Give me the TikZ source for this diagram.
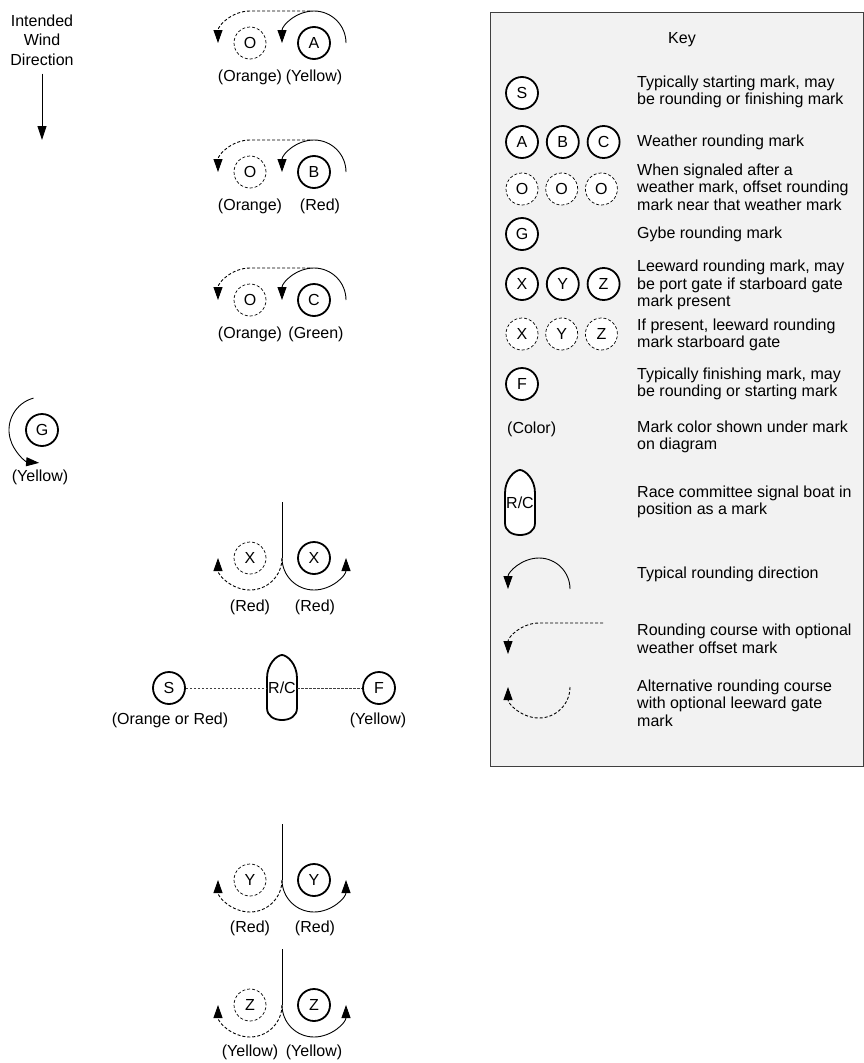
\documentclass[tikz,border=0pt]{standalone}
\usepackage{fontspec}
\setmainfont{Liberation Sans}
\usetikzlibrary{arrows.meta,positioning}

\tikzset{
  buoy/.style={circle, draw, line width=1.8pt, fill=white, minimum size=32pt, inner sep=0pt, font=\fontsize{16}{18}\selectfont},
  offbuoy/.style={buoy, line width=0.7pt, dash pattern=on 3pt off 2pt},
  clr/.style={inner sep=0pt, font=\fontsize{16}{18}\selectfont},
  keytxt/.style={anchor=west, align=left, inner sep=0pt, font=\fontsize{16}{17.5}\selectfont},
  course/.style={line width=0.9pt, -{Triangle[length=13pt,width=9pt]}},
  offcourse/.style={course, dash pattern=on 3pt off 2pt},
  boatline/.style={line width=1.8pt, fill=white},
  rcnode/.style={minimum width=30pt, minimum height=65pt, inner sep=0pt, font=\fontsize{16}{18}\selectfont},
  startline/.style={line width=0.8pt, black!75, dash pattern=on 2.5pt off 1.5pt},
  keybox/.style={draw=black!75, fill=gray!10, line width=1pt},
}

% signal boat outline round a coordinate
\newcommand{\rcboat}[1]{\draw[boatline, shift={(#1)}] (-15,-10) .. controls (-15,-24) and (-5,-33) .. (0,-33) .. controls (5,-33) and (15,-24) .. (15,-10) -- (15,20) .. controls (15,28) and (8,32) .. (0,32) .. controls (-8,32) and (-15,28) .. (-15,20) -- cycle;}

\begin{document}
\begin{tikzpicture}[x=1pt, y=-1pt]
  \useasboundingbox (0,0) rectangle (864,1063);

  % wind
  \node[align=center, inner sep=0pt, font=\fontsize{16}{19.5}\selectfont] (wind) at (42,40) {Intended\\Wind\\Direction};
  \coordinate (windtip) at (42,140);
  \draw[line width=0.9pt, -{Triangle[length=14pt,width=9pt]}, shorten <=8pt] (wind) -- (windtip);

  % weather marks
  \node[offbuoy] (Oa) at (250,43) {O};
  \node[buoy] (A) at (314,43) {A};
  \node[clr] (Oalbl) at (250,77) {(Orange)};
  \node[clr] (Albl) at (314,77) {(Yellow)};
  \draw[course] ([xshift=32pt]A.center) arc[start angle=0, end angle=180, radius=32pt];
  \draw[offcourse] ([xshift=60pt, yshift=32pt]Oa.center) -- ([yshift=32pt]Oa.center) arc[start angle=90, end angle=180, radius=32pt];

  \node[offbuoy] (Ob) at (250,172) {O};
  \node[buoy] (B) at (314,172) {B};
  \node[clr] (Oblbl) at (250,206) {(Orange)};
  \node[clr] (Blbl) at (320,206) {(Red)};
  \draw[course] ([xshift=32pt]B.center) arc[start angle=0, end angle=180, radius=32pt];
  \draw[offcourse] ([xshift=60pt, yshift=32pt]Ob.center) -- ([yshift=32pt]Ob.center) arc[start angle=90, end angle=180, radius=32pt];

  \node[offbuoy] (Oc) at (250,300) {O};
  \node[buoy] (C) at (314,300) {C};
  \node[clr] (Oclbl) at (250,334) {(Orange)};
  \node[clr] (Clbl) at (316,334) {(Green)};
  \draw[course] ([xshift=32pt]C.center) arc[start angle=0, end angle=180, radius=32pt];
  \draw[offcourse] ([xshift=60pt, yshift=32pt]Oc.center) -- ([yshift=32pt]Oc.center) arc[start angle=90, end angle=180, radius=32pt];

  % gybe mark
  \node[buoy] (G) at (42,430) {G};
  \node[clr] (Glbl) at (40,477) {(Yellow)};
  \draw[course] ([shift={(105:33pt)}]G.center) arc[start angle=105, end angle=265, radius=33pt];

  % leeward gates
  \node[offbuoy] (Xs) at (250,558) {X};
  \node[buoy] (Xp) at (314,558) {X};
  \node[clr] (Xslbl) at (250,607) {(Red)};
  \node[clr] (Xplbl) at (315,607) {(Red)};
  \coordinate (Xgate) at (282,558);
  \draw[line width=0.9pt] (Xgate) -- ++(0,-56);
  \draw[offcourse] (Xgate) arc[start angle=0, end angle=-180, radius=32pt];
  \draw[course] (Xgate) arc[start angle=180, end angle=360, radius=32pt];

  \node[offbuoy] (Ys) at (250,880) {Y};
  \node[buoy] (Yp) at (314,880) {Y};
  \node[clr] (Yslbl) at (250,928) {(Red)};
  \node[clr] (Yplbl) at (315,928) {(Red)};
  \coordinate (Ygate) at (282,880);
  \draw[line width=0.9pt] (Ygate) -- ++(0,-56);
  \draw[offcourse] (Ygate) arc[start angle=0, end angle=-180, radius=32pt];
  \draw[course] (Ygate) arc[start angle=180, end angle=360, radius=32pt];

  \node[offbuoy] (Zs) at (250,1005) {Z};
  \node[buoy] (Zp) at (314,1005) {Z};
  \node[clr] (Zslbl) at (250,1052) {(Yellow)};
  \node[clr] (Zplbl) at (314,1052) {(Yellow)};
  \coordinate (Zgate) at (282,1005);
  \draw[line width=0.9pt] (Zgate) -- ++(0,-56);
  \draw[offcourse] (Zgate) arc[start angle=0, end angle=-180, radius=32pt];
  \draw[course] (Zgate) arc[start angle=180, end angle=360, radius=32pt];

  % start / finish line
  \coordinate (rcpos) at (282,688);
  \rcboat{rcpos}
  \node[rcnode] (RC) at (rcpos) {R/C};
  \node[buoy] (S) at (169,688) {S};
  \node[buoy] (F) at (379,688) {F};
  \node[clr] (Slbl) at (170,720) {(Orange or Red)};
  \node[clr] (Flbl) at (378,720) {(Yellow)};
  \draw[startline] (S) -- (RC);
  \draw[startline] (RC) -- (F);

  % key
  \draw[keybox] (490,12) rectangle (863.5,766);
  \node[clr] (keytitle) at (682,40) {Key};

  \node[buoy] (kS) at (522,93) {S};
  \node[keytxt] (kStxt) at (637,92) {Typically starting mark, may\\be rounding or finishing mark};

  \node[buoy] (kA) at (522,142) {A};
  \node[buoy, right=7pt of kA] (kB) {B};
  \node[buoy, right=7pt of kB] (kC) {C};
  \node[keytxt] (kAtxt) at (637,142) {Weather rounding mark};

  \node[offbuoy] (kO1) at (522,189) {O};
  \node[offbuoy, right=7pt of kO1] (kO2) {O};
  \node[offbuoy, right=7pt of kO2] (kO3) {O};
  \node[keytxt] (kOtxt) at (637,187) {When signaled after a\\weather mark, offset rounding\\mark near that weather mark};

  \node[buoy] (kG) at (522,234) {G};
  \node[keytxt] (kGtxt) at (637,234) {Gybe rounding mark};

  \node[buoy] (kX) at (522,284) {X};
  \node[buoy, right=7pt of kX] (kY) {Y};
  \node[buoy, right=7pt of kY] (kZ) {Z};
  \node[keytxt] (kXtxt) at (637,285) {Leeward rounding mark, may\\be port gate if starboard gate\\mark present};

  \node[offbuoy] (kXs) at (522,334) {X};
  \node[offbuoy, right=7pt of kXs] (kYs) {Y};
  \node[offbuoy, right=7pt of kYs] (kZs) {Z};
  \node[keytxt] (kXstxt) at (637,335) {If present, leeward rounding\\mark starboard gate};

  \node[buoy] (kF) at (522,384) {F};
  \node[keytxt] (kFtxt) at (637,384) {Typically finishing mark, may\\be rounding or starting mark};

  \node[keytxt] (kclr) at (507,429) {(Color)};
  \node[keytxt] (kclrtxt) at (637,437) {Mark color shown under mark\\on diagram};

  \coordinate (krcpos) at (520,503);
  \rcboat{krcpos}
  \node[rcnode] (kRC) at (krcpos) {R/C};
  \node[keytxt] (kRCtxt) at (637,502) {Race committee signal boat in\\position as a mark};

  \coordinate (ktyp) at (539,589);
  \draw[course] ([xshift=31pt]ktyp) arc[start angle=0, end angle=180, radius=31pt];
  \node[keytxt] (ktyptxt) at (637,574) {Typical rounding direction};

  \coordinate (koff) at (539,654);
  \draw[offcourse] ([xshift=64pt, yshift=31pt]koff) -- ([yshift=31pt]koff) arc[start angle=90, end angle=180, radius=31pt];
  \node[keytxt] (kofftxt) at (637,639) {Rounding course with optional\\weather offset mark};

  \coordinate (kalt) at (539,687);
  \draw[offcourse] ([xshift=31pt]kalt) arc[start angle=0, end angle=-180, radius=31pt];
  \node[keytxt] (kalttxt) at (637,703) {Alternative rounding course\\with optional leeward gate\\mark};
\end{tikzpicture}
\end{document}
